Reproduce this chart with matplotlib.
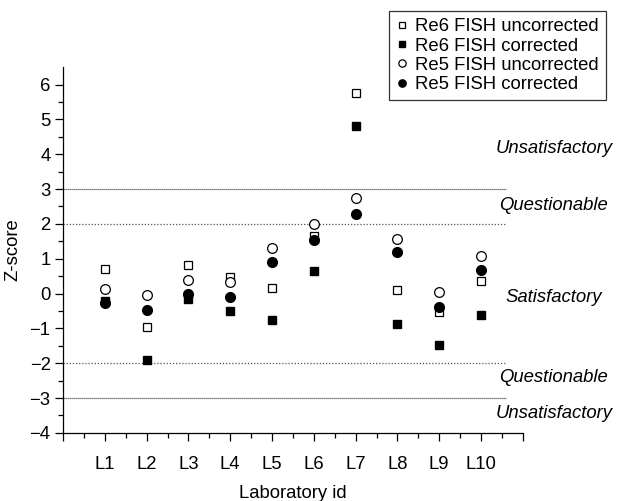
import numpy as np
import matplotlib.pyplot as plt

plt.rcParams['font.family'] = ['Liberation Sans', 'DejaVu Sans']

# Z-scores, labs L1..L10
labs = ["L1", "L2", "L3", "L4", "L5", "L6", "L7", "L8", "L9", "L10"]
re6_uncorr = [0.70, -0.95, 0.81, 0.48, 0.17, 1.64, 5.76, 0.09, -0.52, 0.35]
re6_corr = [-0.20, -1.90, -0.17, -0.49, -0.77, 0.66, 4.81, -0.87, -1.49, -0.62]
re5_uncorr = [0.13, -0.05, 0.40, 0.32, 1.32, 1.99, 2.73, 1.57, 0.05, 1.09]
re5_corr = [-0.28, -0.47, 0.00, -0.11, 0.90, 1.54, 2.29, 1.18, -0.39, 0.67]

zones = ["Unsatisfactory", "Questionable", "Satisfactory", "Questionable", "Unsatisfactory"]
zone_y = [4.17, 2.54, -0.10, -2.40, -3.43]

fs = 13.3

fig = plt.figure(figsize=(6.18, 5.01), dpi=100)
ax = fig.add_axes([0.102, 0.136, 0.744, 0.730])

x = np.arange(1, len(labs) + 1)

# threshold lines
ax.plot([0, 10.6], [3, 3], color="#555555", lw=0.9, ls=(0, (1, 0.6)))
ax.plot([0, 10.6], [-3, -3], color="#555555", lw=0.9, ls=(0, (1, 0.6)))
ax.plot([0, 10.6], [2, 2], color="#555555", lw=0.9, ls=(0, (1, 1.5)))
ax.plot([0, 10.6], [-2, -2], color="#555555", lw=0.9, ls=(0, (1, 1.5)))

ax.plot(x, re6_uncorr, ls="none", marker="s", ms=6.3, mfc="white", mec="black", mew=0.9,
        label="Re6 FISH uncorrected")
ax.plot(x, re6_corr, ls="none", marker="s", ms=6.3, mfc="black", mec="black",
        label="Re6 FISH corrected")
ax.plot(x, re5_uncorr, ls="none", marker="o", ms=7, mfc="white", mec="black", mew=0.9,
        label="Re5 FISH uncorrected")
ax.plot(x, re5_corr, ls="none", marker="o", ms=7, mfc="black", mec="black",
        label="Re5 FISH corrected")

for t, yy in zip(zones, zone_y):
    ax.text(11.74, yy, t, style="italic", fontsize=fs, ha="center", va="center",
            clip_on=False)

ax.set_xlim(0, 11)
ax.set_ylim(-4, 6.5)
ax.set_xticks(range(0, 12))
ax.set_xticklabels([""] + labs + [""])
ax.set_xticks(np.arange(0.5, 11, 1), minor=True)
ax.set_yticks(range(-4, 7))
ax.set_yticklabels([str(v).replace("-", "\u2212") for v in range(-4, 7)])
ax.set_yticks(np.arange(-3.5, 6.5, 1), minor=True)
ax.tick_params(labelsize=fs, length=6, width=0.9, pad=3)
ax.tick_params(axis="x", pad=11)
ax.tick_params(which="minor", length=3.5, width=0.9)

for s in ["top", "right"]:
    ax.spines[s].set_visible(False)
ax.spines["left"].set_linewidth(0.9)
ax.spines["bottom"].set_linewidth(0.9)

ax.set_xlabel("Laboratory id", fontsize=fs, labelpad=8)
ax.set_ylabel("Z-score", fontsize=fs, labelpad=6)

leg = fig.legend(loc="upper left", bbox_to_anchor=(0.630, 0.978), fontsize=fs,
                 frameon=True, fancybox=False, edgecolor="black", handlelength=0.6,
                 handletextpad=0.4, borderpad=0.4, labelspacing=0.12, markerscale=0.75,
                 borderaxespad=0)
leg.get_frame().set_linewidth(0.9)

plt.savefig("out.png", dpi=100)
